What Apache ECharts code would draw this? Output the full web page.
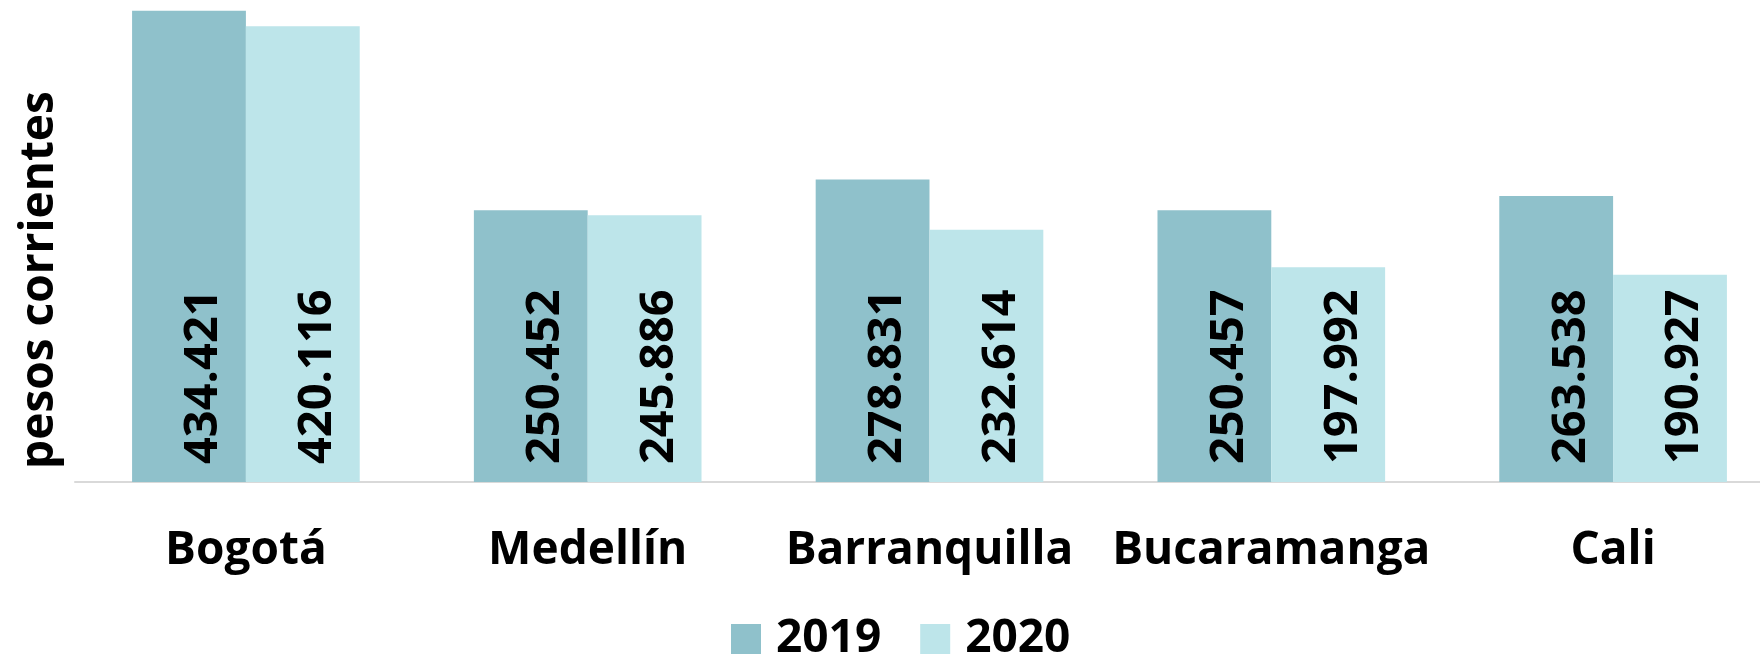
<!DOCTYPE html>
<html>
<head>
<meta charset="utf-8">
<script src="https://cdn.jsdelivr.net/npm/echarts@6/dist/echarts.min.js"></script>
<style>
  html, body { margin: 0; padding: 0; background: #fff; }
  #chart { width: 1760px; height: 662px; }
</style>
</head>
<body>
<div id="chart"></div>
<script>
var ciudades = ["Bogotá", "Medellín", "Barranquilla", "Bucaramanga", "Cali"];
var valores2019 = [434421, 250452, 278831, 250457, 263538];
var valores2020 = [420116, 245886, 232614, 197992, 190927];

var fuente = "'Open Sans', 'DejaVu Sans', sans-serif";

// separador de miles con punto
function miles(v) {
  return String(v).replace(/\B(?=(\d{3})+(?!\d))/g, ".");
}

var chart = echarts.init(document.getElementById("chart"));

// etiqueta vertical dentro de la barra (el offset va en el marco rotado)
var etiqueta = {
  show: true,
  position: "insideBottom",
  rotate: 90,
  align: "left",
  verticalAlign: "middle",
  distance: 18,
  offset: [0, 15],
  color: "#000",
  fontFamily: fuente,
  fontWeight: "bold",
  fontSize: 47,
  formatter: function (p) {
    return miles(p.value);
  },
};

var option = {
  animation: false,
  grid: {
    left: 75,
    top: 4.65,
    width: 1709,
    height: 477.35,
    outerBoundsMode: "none",
    containLabel: false,
  },
  legend: {
    left: 731,
    top: 616,
    padding: 0,
    icon: "rect",
    itemWidth: 30,
    itemHeight: 30,
    itemGap: 39,
    textStyle: {
      color: "#000",
      fontFamily: fuente,
      fontWeight: "bold",
      fontSize: 46,
      padding: [0, 0, 0, 10],
    },
    data: ["2019", "2020"],
  },
  xAxis: {
    type: "category",
    data: ciudades,
    axisTick: { show: false },
    axisLine: {
      show: true,
      lineStyle: { color: "#d9d9d9", width: 2 },
    },
    axisLabel: {
      interval: 0,
      hideOverlap: false,
      color: "#000",
      fontFamily: fuente,
      fontWeight: "bold",
      fontSize: 46,
      margin: 46,
    },
  },
  yAxis: {
    type: "value",
    min: 0,
    max: 440000,
    show: false,
  },
  graphic: [
    {
      type: "text",
      x: 40,
      y: 280,
      rotation: Math.PI / 2,
      style: {
        text: "pesos corrientes",
        fill: "#000",
        font: "bold 46px " + fuente,
        align: "center",
        verticalAlign: "middle",
      },
    },
  ],
  series: [
    {
      name: "2019",
      type: "bar",
      barGap: "0%",
      barCategoryGap: "33.4%",
      itemStyle: { color: "#8fc1cb" },
      label: etiqueta,
      data: valores2019,
    },
    {
      name: "2020",
      type: "bar",
      itemStyle: { color: "#bde5ea" },
      label: etiqueta,
      data: valores2020,
    },
  ],
};

chart.setOption(option);
</script>
</body>
</html>
